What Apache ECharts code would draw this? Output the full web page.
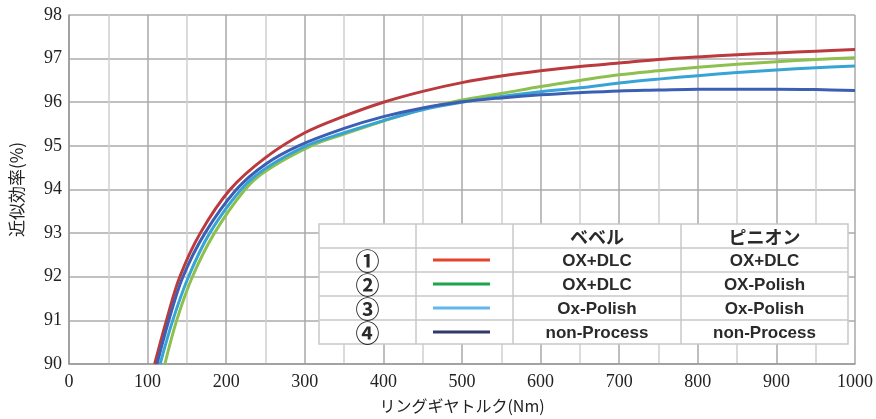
<!DOCTYPE html>
<html>
<head>
    <meta charset="utf-8">
    <script src="https://cdn.jsdelivr.net/npm/echarts@6/dist/echarts.min.js"></script>
</head>
<body style="margin:0;background:#fff">
    <div id="main" style="width:876px;height:419px;"></div>
    <script type="text/javascript">
        // curve data (torque Nm -> efficiency %)
        var redX = [109, 124, 141, 167, 205, 250, 300, 350, 400, 450, 500, 550, 600, 650, 700, 750, 800, 850, 900, 950, 1000];
        var redY = [90, 91, 92, 93, 94, 94.73, 95.3, 95.68, 96.0, 96.25, 96.45, 96.6, 96.72, 96.82, 96.9, 96.98, 97.04, 97.09, 97.13, 97.17, 97.21];
        var greenX = [122, 137, 157, 185, 224, 250, 308, 350, 400, 450, 500, 550, 600, 650, 700, 750, 800, 850, 900, 950, 1000];
        var greenY = [90, 91, 92, 93, 94, 94.42, 95, 95.27, 95.57, 95.84, 96.05, 96.2, 96.36, 96.5, 96.63, 96.72, 96.8, 96.87, 96.93, 96.98, 97.02];
        var cyanX = [116, 132, 152, 179, 219, 250, 302, 350, 400, 450, 500, 550, 600, 650, 700, 750, 800, 850, 900, 950, 1000];
        var cyanY = [90, 91, 92, 93, 94, 94.48, 95, 95.3, 95.58, 95.83, 96.0, 96.13, 96.24, 96.33, 96.44, 96.53, 96.61, 96.68, 96.74, 96.79, 96.83];
        var blueX = [112, 127, 145, 173, 213, 250, 292, 350, 400, 450, 500, 550, 600, 650, 700, 750, 800, 850, 900, 950, 1000];
        var blueY = [90, 91, 92, 93, 94, 94.58, 95, 95.4, 95.67, 95.87, 96.01, 96.1, 96.17, 96.22, 96.26, 96.28, 96.3, 96.3, 96.3, 96.29, 96.27];

        // table legend
        var headers = ['', '', 'ベベル', 'ピニオン'];
        var rowNums = ['①', '②', '③', '④'];
        var bevelNames = ['OX+DLC', 'OX+DLC', 'Ox-Polish', 'non-Process'];
        var pinionNames = ['OX+DLC', 'OX-Polish', 'Ox-Polish', 'non-Process'];
        var curveColors = ['#bb3a3e', '#8dc04e', '#38a4d6', '#3c5fb4'];
        var sampleColors = ['#e5432f', '#1ca54c', '#62b8ea', '#2f3a6b'];

        function pairs(xs, ys) {
            return xs.map(function (x, i) { return [x, ys[i]]; });
        }
        var seriesData = [pairs(redX, redY), pairs(greenX, greenY), pairs(cyanX, cyanY), pairs(blueX, blueY)];

        var myChart = echarts.init(document.getElementById('main'));

        // table geometry (pixels)
        var tL = 319, tT = 224, rowH = 24;
        var colEdges = [319, 416, 513, 681, 848];
        var g = [];
        g.push({ type: 'rect', shape: { x: tL, y: tT, width: colEdges[4] - tL, height: rowH * 5 },
            style: { fill: '#fff', stroke: '#c8c8c8', lineWidth: 1.5 }, z: 100 });
        for (var r = 1; r < 5; r++) {
            g.push({ type: 'line', shape: { x1: tL, y1: tT + r * rowH, x2: colEdges[4], y2: tT + r * rowH },
                style: { stroke: '#c8c8c8', lineWidth: 1.5 }, z: 101 });
        }
        for (var c = 1; c < 4; c++) {
            g.push({ type: 'line', shape: { x1: colEdges[c], y1: tT, x2: colEdges[c], y2: tT + rowH * 5 },
                style: { stroke: '#c8c8c8', lineWidth: 1.5 }, z: 101 });
        }
        function cellText(txt, col, row, font) {
            return { type: 'text', x: (colEdges[col] + colEdges[col + 1]) / 2, y: tT + row * rowH + rowH / 2 + 1,
                style: { text: txt, align: 'center', verticalAlign: 'middle', fill: '#2a2a2a', font: font }, z: 102 };
        }
        var latinFont = 'bold 17px "Liberation Sans", sans-serif';
        var kanaFont = 'bold 18px "Noto Sans CJK JP", sans-serif';
        for (var h = 0; h < headers.length; h++) {
            if (headers[h]) g.push(cellText(headers[h], h, 0, kanaFont));
        }
        for (var i = 0; i < 4; i++) {
            g.push(cellText(rowNums[i], 0, i + 1, 'bold 24px "Noto Sans CJK JP", sans-serif'));
            g.push({ type: 'line', shape: { x1: 433, y1: tT + (i + 1) * rowH + rowH / 2, x2: 490, y2: tT + (i + 1) * rowH + rowH / 2 },
                style: { stroke: sampleColors[i], lineWidth: 3 }, z: 102 });
            g.push(cellText(bevelNames[i], 2, i + 1, latinFont));
            g.push(cellText(pinionNames[i], 3, i + 1, latinFont));
        }

        var serifFont = '"Liberation Serif", "DejaVu Serif", serif';
        var option = {
            animation: false,
            grid: { left: 67, right: 21, top: 15, bottom: 53 },
            xAxis: {
                type: 'value', min: 0, max: 1000, interval: 100,
                name: 'リングギヤトルク(Nm)', nameLocation: 'middle', nameGap: 34,
                nameTextStyle: { fontFamily: '"Noto Sans CJK JP", sans-serif', fontSize: 16, color: '#222' },
                axisLine: { show: true, lineStyle: { color: '#999', width: 1.5 } },
                axisTick: { show: false },
                axisLabel: { fontFamily: serifFont, fontSize: 18, color: '#222', margin: 9,
                    formatter: function (v) { return String(v); } },
                splitLine: { show: true, lineStyle: { color: '#a8a8a8', width: 1.5 } },
                minorTick: { show: false, splitNumber: 2 },
                minorSplitLine: { show: true, lineStyle: { color: '#cfcfcf', width: 1.5 } }
            },
            yAxis: {
                type: 'value', min: 90, max: 98, interval: 1,
                name: '近似効率(%)', nameLocation: 'middle', nameGap: 44, nameRotate: 90,
                nameTextStyle: { fontFamily: '"Noto Sans CJK JP", sans-serif', fontSize: 17, color: '#222' },
                axisLine: { show: true, lineStyle: { color: '#999', width: 1.5 } },
                axisTick: { show: false },
                axisLabel: { fontFamily: serifFont, fontSize: 18, color: '#222', margin: 7 },
                splitLine: { show: true, lineStyle: { color: '#ababab', width: 1.5 } }
            },
            graphic: g,
            series: seriesData.map(function (d, i) {
                return {
                    type: 'line', data: d, showSymbol: false, smooth: 0.35,
                    lineStyle: { color: curveColors[i], width: 3 }
                };
            })
        };
        myChart.setOption(option);
    </script>
</body>
</html>
